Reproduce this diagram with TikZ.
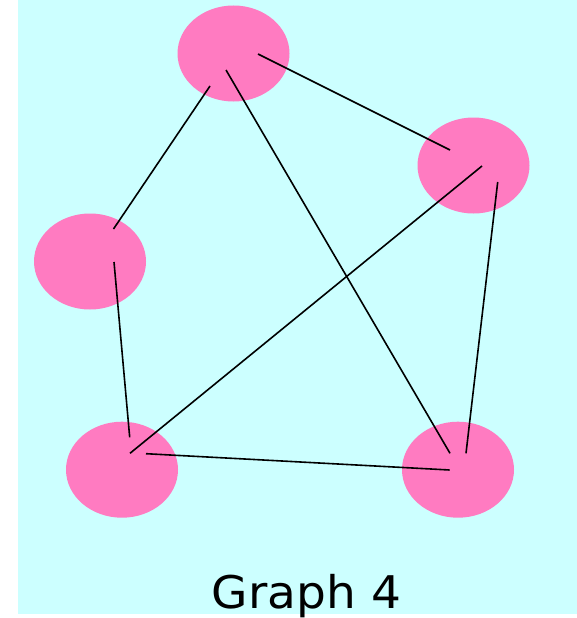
\documentclass[tikz,border=0pt]{standalone}
\usepackage{fontspec}
\setmainfont{DejaVu Sans}
\usetikzlibrary{shapes.geometric}
\definecolor{bgcyan}{HTML}{CCFFFF}
\definecolor{vpink}{HTML}{FF7BC1}
\begin{document}
\begin{tikzpicture}[x=1pt,y=-1pt,
  vert/.style={ellipse, fill=vpink, draw=none, minimum width=112pt, minimum height=96pt, inner sep=0pt},
  edge/.style={draw=black, line width=1.6pt},
  lbl/.style={font=\fontsize{45}{54}\selectfont, text=black, inner sep=0pt, anchor=base, xscale=1.045}]
\useasboundingbox (0,0) rectangle (577,618);
\fill[bgcyan] (18,0) rectangle (577,614);
\node[vert] (t) at (233.5,53.5) {};
\node[vert] (r) at (473.5,165.5) {};
\node[vert] (l) at (90,261.5) {};
\node[vert] (bl) at (122,469.7) {};
\node[vert] (br) at (458,469.7) {};
% edge end points inside the vertices
\coordinate (t1) at (258,54);
\coordinate (t2) at (210,86);
\coordinate (t3) at (226,70);
\coordinate (r1) at (450,150);
\coordinate (r2) at (482,166);
\coordinate (r3) at (497.7,182);
\coordinate (l1) at (113.5,229);
\coordinate (l2) at (114,262);
\coordinate (bl1) at (129.7,437.3);
\coordinate (bl2) at (130,453.3);
\coordinate (bl3) at (146,453.7);
\coordinate (br1) at (450,453.3);
\coordinate (br2) at (466,453.3);
\coordinate (br3) at (449.7,470);
\draw[edge] (t1) -- (r1);
\draw[edge] (t2) -- (l1);
\draw[edge] (t3) -- (br1);
\draw[edge] (r2) -- (bl2);
\draw[edge] (r3) -- (br2);
\draw[edge] (l2) -- (bl1);
\draw[edge] (bl3) -- (br3);
\node[lbl] (cap) at (306.5,608.5) {Graph 4};
\end{tikzpicture}
\end{document}
